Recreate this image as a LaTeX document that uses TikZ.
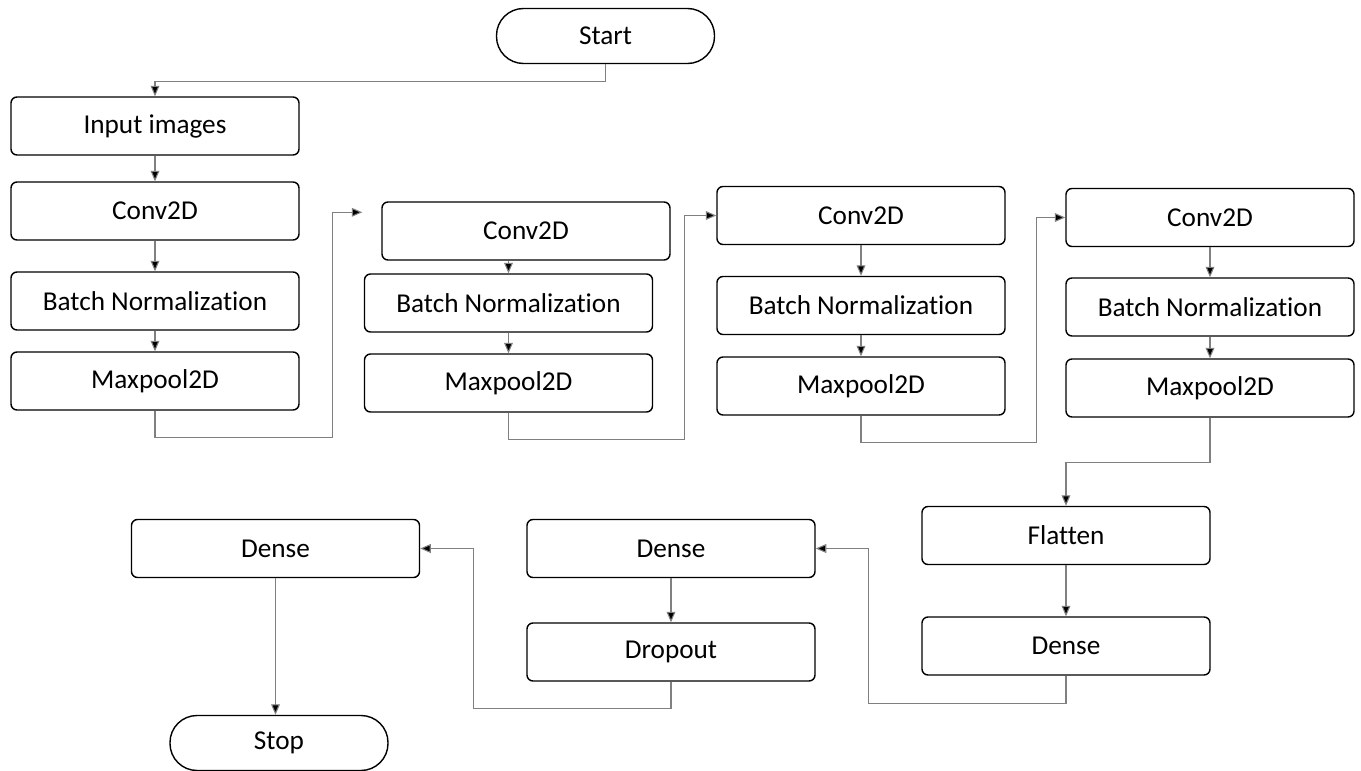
\documentclass[tikz,border=0pt]{standalone}
\usepackage{fontspec}
\setmainfont{Carlito}[Ligatures=NoCommon]
\usepackage{tikz}
\usetikzlibrary{positioning,arrows.meta,calc}

\begin{document}
\begin{tikzpicture}[
  font=\fontsize{15.5}{17}\selectfont,
  blk/.style={draw, line width=0.8pt, rounded corners=0.12cm, minimum width=5.76cm, minimum height=1.16cm, inner sep=0pt},
  term/.style={draw, line width=0.8pt, rounded corners=0.54cm, minimum width=4.36cm, minimum height=1.1cm, inner sep=0pt},
  flow/.style={draw=black!50, line width=0.6pt, -{Triangle[width=5pt,length=6pt,fill=black]}}
]
% fixed page size
\useasboundingbox (0,0) rectangle (27.22,-15.42);

% Column x-positions (centres)
\def\cA{3.10}
\def\cB{10.17}
\def\cC{17.22}
\def\cD{24.20}

% Start and input
\node[term] (start) at (12.11,-0.72) {Start};
\node[blk] (inp) at (\cA,-2.52) {Input images};

% First conv block
\node[blk] (c1) at (\cA,-4.22) {Conv2D};
\node[blk] (b1) at (\cA,-6.02) {Batch Normalization};
\node[blk] (m1) at (\cA,-7.62) {Maxpool2D};

% Second conv block (conv sits a bit to the right)
\node[blk] (c2) at (10.52,-4.62) {Conv2D};
\node[blk] (b2) at (\cB,-6.06) {Batch Normalization};
\node[blk] (m2) at (\cB,-7.66) {Maxpool2D};

% Third conv block
\node[blk] (c3) at (\cC,-4.31) {Conv2D};
\node[blk] (b3) at (\cC,-6.11) {Batch Normalization};
\node[blk] (m3) at (\cC,-7.72) {Maxpool2D};

% Fourth conv block
\node[blk] (c4) at (\cD,-4.35) {Conv2D};
\node[blk] (b4) at (\cD,-6.14) {Batch Normalization};
\node[blk] (m4) at (\cD,-7.76) {Maxpool2D};

% Classifier head, read right to left
\node[blk] (fl) at (21.32,-10.71) {Flatten};
\node[blk] (d3) at (21.32,-12.92) {Dense};
\node[blk] (d2) at (13.42,-10.97) {Dense};
\node[blk] (dr) at (13.42,-13.04) {Dropout};
\node[blk] (d1) at (5.51,-10.97) {Dense};
\node[term] (stop) at (5.58,-14.86) {Stop};

% arrow into the second block stops short of the box
\coordinate (c2in) at ($(c2.north west)+(-0.38,-0.22)$);

% connectors
\draw[flow] (start.south) -- ++(0,-0.34) -| (inp.north);
\draw[flow] (inp) -- (c1);
\draw[flow] (c1) -- (b1);
\draw[flow] (b1) -- (m1);
\draw[flow] (m1.south) -- ++(0,-0.54) -| ($(c2in)+(-0.6,0)$) -- (c2in);

\draw[flow] (b2.north |- c2.south) -- (b2.north);
\draw[flow] (b2) -- (m2);
\draw[flow] (m2.south) -- ++(0,-0.54) -| ($(c3.west)+(-0.64,0)$) -- (c3.west);

\draw[flow] (c3) -- (b3);
\draw[flow] (b3) -- (m3);
\draw[flow] (m3.south) -- ++(0,-0.54) -| ($(c4.west)+(-0.58,0)$) -- (c4.west);

\draw[flow] (c4) -- (b4);
\draw[flow] (b4) -- (m4);
\draw[flow] (m4.south) -- ++(0,-0.9) -| (fl.north);

\draw[flow] (fl) -- (d3);
\draw[flow] (d3.south) -- ++(0,-0.56) -| ($(d2.east)+(1.06,0)$) -- (d2.east);
\draw[flow] (d2) -- (dr);
\draw[flow] (dr.south) -- ++(0,-0.54) -| ($(d1.east)+(1.06,0)$) -- (d1.east);
\draw[flow] (d1.south) -- (d1.south |- stop.north);

\end{tikzpicture}
\end{document}
